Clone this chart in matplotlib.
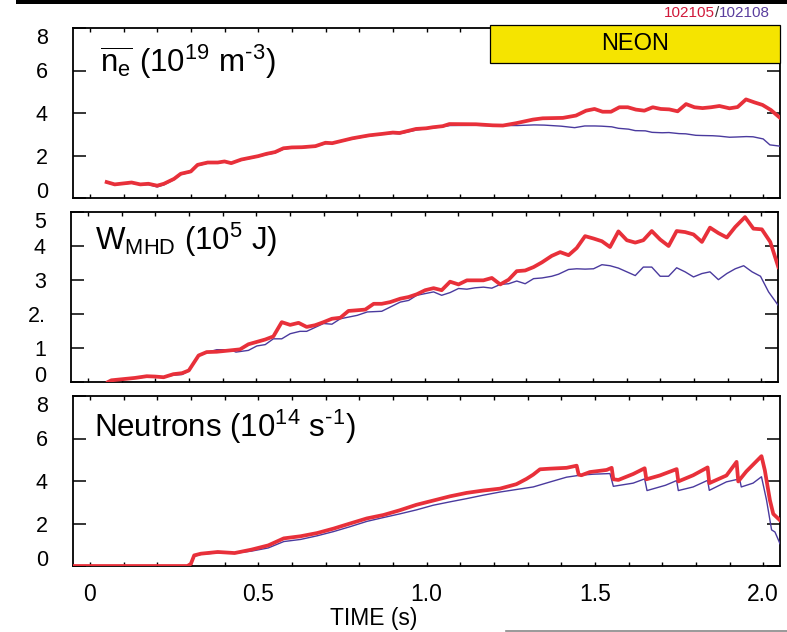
import matplotlib
matplotlib.use("Agg")
import matplotlib.pyplot as plt
from matplotlib.patches import Rectangle
from matplotlib.lines import Line2D
from matplotlib.offsetbox import TextArea, HPacker, AnnotationBbox

plt.rcParams['font.family'] = ['Liberation Sans', 'DejaVu Sans']
plt.rcParams['mathtext.fontset'] = 'custom'
plt.rcParams['mathtext.rm'] = 'Liberation Sans'
plt.rcParams['mathtext.it'] = 'Liberation Sans'
plt.rcParams['mathtext.bf'] = 'Liberation Sans:bold'

RED = '#e8303a'
BLUE = '#4a3a9e'

# shot numbers
shot_a = '102105'
shot_b = '102108'

# line-averaged density (1e19 m^-3)
ne_red_t = [0.05, 0.074, 0.124, 0.15, 0.174, 0.2, 0.22, 0.25, 0.27, 0.3, 0.32, 0.35, 0.38,
            0.4, 0.42, 0.45, 0.475, 0.5, 0.525, 0.55, 0.575, 0.6, 0.63, 0.67, 0.7, 0.72,
            0.78, 0.83, 0.87, 0.9, 0.92, 0.969, 0.999, 1.019, 1.048, 1.068, 1.147, 1.197,
            1.227, 1.266, 1.316, 1.345, 1.405, 1.444, 1.474, 1.499, 1.523, 1.548, 1.573,
            1.598, 1.622, 1.647, 1.672, 1.696, 1.721, 1.746, 1.771, 1.796, 1.82, 1.845,
            1.87, 1.9, 1.924, 1.949, 1.974, 1.998, 2.023, 2.048]
ne_red = [0.75, 0.64, 0.73, 0.64, 0.67, 0.58, 0.67, 0.9, 1.14, 1.25, 1.56, 1.67, 1.67,
          1.72, 1.64, 1.81, 1.89, 1.97, 2.08, 2.16, 2.34, 2.38, 2.39, 2.44, 2.6, 2.58,
          2.81, 2.95, 3.02, 3.08, 3.06, 3.25, 3.28, 3.33, 3.38, 3.48, 3.47, 3.42,
          3.41, 3.52, 3.69, 3.75, 3.77, 3.88, 4.11, 4.19, 4.06, 4.06, 4.27,
          4.27, 4.16, 4.11, 4.27, 4.19, 4.17, 4.08, 4.42, 4.27, 4.23, 4.27,
          4.33, 4.22, 4.28, 4.64, 4.5, 4.38, 4.14, 3.8]
ne_blue_t = [0.05, 0.074, 0.124, 0.15, 0.174, 0.2, 0.22, 0.25, 0.27, 0.3, 0.32, 0.35, 0.38,
             0.4, 0.42, 0.45, 0.475, 0.5, 0.525, 0.55, 0.575, 0.6, 0.63, 0.67, 0.7, 0.72,
             0.78, 0.83, 0.87, 0.9, 0.92, 0.97, 1.0, 1.02, 1.05, 1.07, 1.15, 1.2, 1.23,
             1.27, 1.32, 1.35, 1.4, 1.44, 1.47, 1.5, 1.52, 1.55, 1.57, 1.6, 1.62, 1.65,
             1.67, 1.7, 1.72, 1.75, 1.77, 1.8, 1.82, 1.85, 1.87, 1.9, 1.92, 1.95, 1.97,
             2.0, 2.02, 2.05]
ne_blue = [0.72, 0.62, 0.7, 0.62, 0.63, 0.52, 0.62, 0.86, 1.1, 1.22, 1.52, 1.64, 1.66,
           1.7, 1.63, 1.78, 1.86, 1.95, 2.04, 2.12, 2.3, 2.35, 2.36, 2.42, 2.56, 2.57,
           2.78, 2.92, 3.0, 3.04, 3.02, 3.2, 3.26, 3.3, 3.36, 3.41, 3.42, 3.4, 3.41,
           3.41, 3.44, 3.43, 3.38, 3.31, 3.39, 3.39, 3.38, 3.35, 3.28, 3.24, 3.17, 3.16,
           3.09, 3.07, 3.08, 3.03, 3.02, 2.95, 2.94, 2.93, 2.91, 2.86, 2.87, 2.89, 2.88,
           2.78, 2.5, 2.44]

# stored energy (1e5 J)
w_red_t = [0.06, 0.07, 0.1, 0.14, 0.175, 0.2, 0.225, 0.254, 0.28, 0.3, 0.329, 0.353, 0.383,
           0.423, 0.452, 0.477, 0.502, 0.527, 0.551, 0.576, 0.601, 0.626, 0.65, 0.675, 0.7,
           0.725, 0.75, 0.774, 0.8, 0.824, 0.849, 0.873, 0.898, 0.928, 0.953, 0.977, 1.002,
           1.027, 1.051, 1.076, 1.101, 1.126, 1.175, 1.2, 1.225, 1.25, 1.274, 1.299, 1.324,
           1.349, 1.378, 1.403, 1.428, 1.452, 1.477, 1.502, 1.527, 1.551, 1.576, 1.601,
           1.626, 1.65, 1.675, 1.7, 1.725, 1.749, 1.774, 1.799, 1.824, 1.848, 1.873, 1.898,
           1.923, 1.952, 1.977, 2.002, 2.027, 2.051]
w_red = [0.0, 0.05, 0.08, 0.12, 0.17, 0.16, 0.14, 0.23, 0.26, 0.34, 0.78, 0.88, 0.89,
         0.93, 0.96, 1.11, 1.18, 1.25, 1.34, 1.76, 1.68, 1.74, 1.62, 1.67, 1.76,
         1.86, 1.89, 2.09, 2.11, 2.13, 2.3, 2.3, 2.35, 2.45, 2.5, 2.58, 2.7,
         2.76, 2.7, 2.95, 2.87, 2.99, 2.99, 3.06, 2.87, 3.01, 3.26, 3.28, 3.38,
         3.52, 3.71, 3.82, 3.73, 3.94, 4.29, 4.22, 4.14, 3.97, 4.43, 4.17,
         4.1, 4.17, 4.44, 4.19, 4.0, 4.44, 4.41, 4.34, 4.12, 4.54, 4.38, 4.25,
         4.56, 4.85, 4.51, 4.49, 4.12, 3.38]
w_blue_t = [0.06, 0.07, 0.1, 0.14, 0.175, 0.2, 0.225, 0.254, 0.28, 0.3, 0.329, 0.353, 0.383,
            0.423, 0.44, 0.477, 0.502, 0.527, 0.551, 0.576, 0.601, 0.63, 0.65, 0.7, 0.725,
            0.75, 0.8, 0.83, 0.873, 0.928, 0.953, 0.977, 1.027, 1.051, 1.076, 1.101, 1.126,
            1.15, 1.175, 1.2, 1.225, 1.25, 1.274, 1.299, 1.324, 1.349, 1.378, 1.398, 1.428,
            1.452, 1.477, 1.502, 1.527, 1.551, 1.576, 1.601, 1.626, 1.65, 1.675, 1.7, 1.725,
            1.749, 1.774, 1.799, 1.824, 1.848, 1.873, 1.898, 1.923, 1.948, 1.973, 1.998,
            2.022, 2.051]
w_blue = [0.0, 0.04, 0.07, 0.11, 0.15, 0.15, 0.15, 0.2, 0.22, 0.32, 0.76, 0.87, 0.95,
          0.95, 0.88, 0.93, 1.06, 1.1, 1.27, 1.27, 1.42, 1.49, 1.49, 1.72, 1.7,
          1.86, 1.96, 2.06, 2.08, 2.35, 2.4, 2.55, 2.65, 2.55, 2.63, 2.75, 2.73,
          2.77, 2.79, 2.76, 2.87, 2.89, 2.97, 2.89, 3.04, 3.06, 3.11, 3.17, 3.31,
          3.33, 3.32, 3.33, 3.45, 3.42, 3.35, 3.24, 3.13, 3.38, 3.38, 3.11, 3.11,
          3.36, 3.24, 3.09, 3.19, 3.24, 3.01, 3.19, 3.33, 3.42, 3.24, 3.11,
          2.65, 2.25]

# neutron rate (1e14 s^-1)
n_red_t = [-0.05, 0.29, 0.30, 0.31, 0.33, 0.38, 0.43, 0.48, 0.53, 0.576, 0.626, 0.675,
           0.724, 0.773, 0.823, 0.872, 0.92, 0.97, 1.02, 1.07, 1.119, 1.168, 1.218, 1.267,
           1.297, 1.317, 1.337, 1.366, 1.416, 1.446, 1.452, 1.46, 1.485, 1.535, 1.55, 1.555,
           1.57, 1.614, 1.648, 1.653, 1.693, 1.743, 1.748, 1.792, 1.835, 1.84, 1.891, 1.921,
           1.926, 1.95, 1.995, 2.005, 2.02, 2.03, 2.05]
n_red = [0.0, 0.0, 0.1, 0.5, 0.58, 0.66, 0.61, 0.77, 0.97, 1.3, 1.4, 1.55,
         1.76, 2.0, 2.24, 2.4, 2.62, 2.88, 3.08, 3.28, 3.44, 3.55, 3.64, 3.85,
         4.1, 4.3, 4.55, 4.58, 4.62, 4.72, 4.3, 4.27, 4.42, 4.52, 4.62, 4.08,
         4.05, 4.33, 4.6, 4.08, 4.26, 4.56, 3.98, 4.27, 4.64, 3.9, 4.26, 4.9,
         3.98, 4.45, 5.17, 4.5, 3.1, 2.45, 2.15]
n_blue_t = [-0.05, 0.29, 0.30, 0.31, 0.33, 0.38, 0.43, 0.48, 0.53, 0.576, 0.626, 0.675,
            0.724, 0.773, 0.823, 0.872, 0.92, 0.97, 1.02, 1.07, 1.119, 1.168, 1.218, 1.267,
            1.317, 1.366, 1.416, 1.455, 1.495, 1.545, 1.555, 1.614, 1.648, 1.655, 1.71,
            1.743, 1.748, 1.792, 1.835, 1.84, 1.891, 1.93, 1.935, 1.97, 1.995, 2.01, 2.025,
            2.035, 2.05]
n_blue = [0.0, 0.0, 0.08, 0.45, 0.55, 0.62, 0.6, 0.7, 0.85, 1.15, 1.25, 1.42,
          1.62, 1.85, 2.1, 2.28, 2.45, 2.64, 2.86, 3.02, 3.17, 3.33, 3.48, 3.6,
          3.72, 3.95, 4.18, 4.27, 4.32, 4.35, 3.75, 3.9, 4.1, 3.55, 3.8,
          4.02, 3.55, 3.72, 4.03, 3.56, 3.96, 4.1, 3.72, 3.9, 4.2, 3.1, 1.7,
          1.6, 1.05]

W, H = 787, 632
fig = plt.figure(figsize=(W / 100, H / 100), dpi=100)


def px_axes(left, top, right, bottom):
    return fig.add_axes([left / W, 1 - bottom / H, (right - left) / W, (bottom - top) / H])


ax1 = px_axes(73, 28, 780, 198)
ax2 = px_axes(71, 212, 778, 382)
ax3 = px_axes(73, 396, 780, 566)

panels = [
    (ax1, ne_red_t, ne_red, ne_blue_t, ne_blue, 8, [0, 2, 4, 6, 8], ['0', '2', '4', '6', '8']),
    (ax2, w_red_t, w_red, w_blue_t, w_blue, 5, [0, 1, 2, 3, 4, 5], ['0', '1', '2.', '3', '4', '5']),
    (ax3, n_red_t, n_red, n_blue_t, n_blue, 8, [0, 2, 4, 6, 8], ['0', '2', '4', '6', '8']),
]

xticks_minor = [round(0.1 * i, 1) for i in range(21)]

for ax, rt, rv, bt, bv, ytop, yt, ytl in panels:
    ax.plot(bt, bv, color=BLUE, lw=1.0, zorder=3)
    ax.plot(rt, rv, color=RED, lw=2.7, zorder=4, solid_joinstyle='round')
    ax.set_xlim(-0.05, 2.05)
    ax.set_ylim(0, ytop)
    ax.set_yticks(yt)
    ax.set_yticklabels(ytl)
    ax.set_xticks(xticks_minor)
    ax.tick_params(axis='y', which='both', direction='in', length=9.5, width=1.1,
                   left=True, right=True, labelsize=15.5, pad=18)
    ax.tick_params(axis='x', which='both', direction='in', length=3, width=1.0,
                   top=True, bottom=True, labelbottom=False)
    for sp in ax.spines.values():
        sp.set_linewidth(1.3)
    # keep the end labels inside the panel height
    labels = ax.get_yticklabels()
    labels[0].set_verticalalignment('baseline')
    labels[-1].set_verticalalignment('top')

ax3.set_xticks([0, 0.5, 1.0, 1.5, 2.0])
ax3.set_xticklabels(['0', '0.5', '1.0', '1.5', '2.0'])
ax3.set_xticks(xticks_minor, minor=True)
ax3.tick_params(axis='x', which='both', direction='in', length=3, width=1.0,
                top=True, bottom=True)
ax3.tick_params(axis='x', which='major', labelbottom=True, labelsize=16.5, pad=12)

# panel titles
fig.text(100 / W, 1 - 72 / H, '$\\overline{n_e}$ (10$^{19}$ m$^{\u20103}$)', fontsize=22.5, va='baseline')
fig.text(95 / W, 1 - 250 / H, r'W$_{\mathrm{MHD}}$ (10$^{5}$ J)', fontsize=22.5, va='baseline')
fig.text(94 / W, 1 - 437 / H, 'Neutrons (10$^{14}$ s$^{\u20101}$)', fontsize=22.5, va='baseline')

fig.text(374 / W, 1 - 618 / H, 'TIME (s)', fontsize=16.5, ha='center', va='center')

# neon injection window
neon = Rectangle((1.188, 6.34), 2.05 - 1.188, 1.78, facecolor='#f5e400', edgecolor='black',
                 lw=0.9, clip_on=False, zorder=6)
ax1.add_patch(neon)
ax1.text(1.188 + (2.05 - 1.188) / 2, 6.34 + 1.78 / 2, 'NEON', fontsize=17, ha='center',
         va='center', zorder=7)

# shot numbers in their line colours
shots = HPacker(children=[TextArea(shot_a, textprops=dict(color='#d0183a', fontsize=11)),
                          TextArea('/', textprops=dict(color='#333333', fontsize=11)),
                          TextArea(shot_b, textprops=dict(color='#5a3e9e', fontsize=11))],
                align='baseline', pad=0, sep=0)
fig.add_artist(AnnotationBbox(shots, (770 / W, 1 - 13 / H), xycoords='figure fraction',
                              box_alignment=(1, 0.5), frameon=False, pad=0))

# rules at the top and bottom of the page
fig.add_artist(Rectangle((16 / W, 1 - 3.5 / H), 1 - 16 / W, 3.5 / H, transform=fig.transFigure,
                         facecolor='black', edgecolor='none'))
fig.add_artist(Line2D([506 / W, 1], [1 - 631 / H, 1 - 631 / H], transform=fig.transFigure,
                      color='#888888', lw=1.2))

fig.savefig('out.png', dpi=100)
